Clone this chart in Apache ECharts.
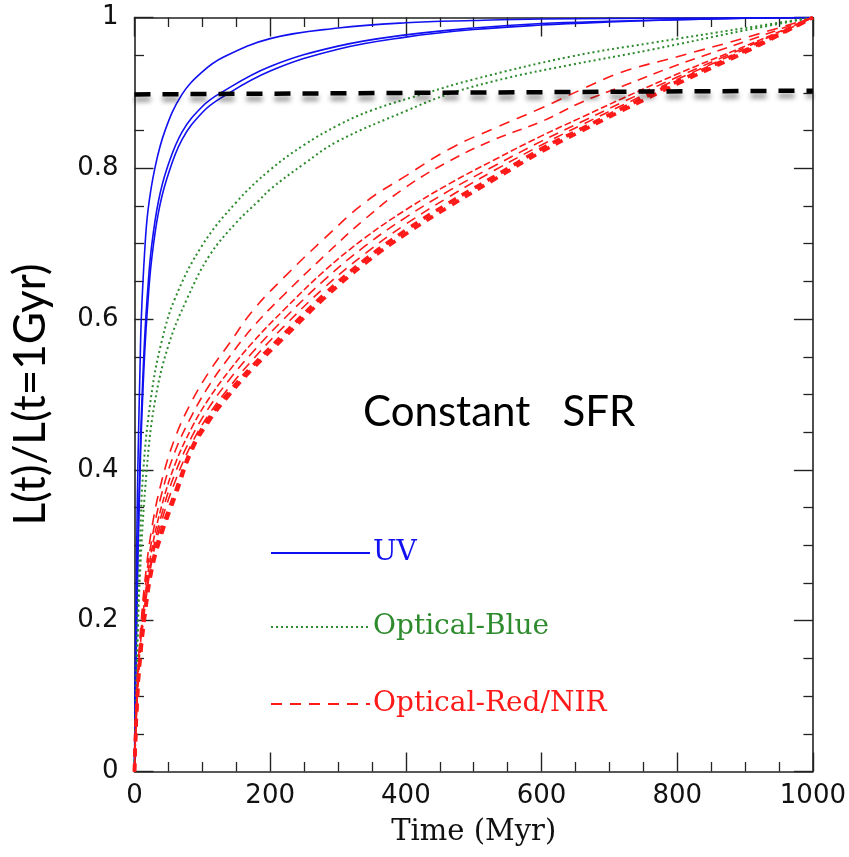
<!DOCTYPE html>
<html>
<head>
<meta charset="utf-8">
<script src="https://cdn.jsdelivr.net/npm/echarts@6/dist/echarts.min.js"></script>
<style>
  html, body { margin: 0; padding: 0; background: #fff; }
  #chart { width: 849px; height: 857px; }
</style>
</head>
<body>
<div id="chart"></div>
<script>
// Luminosity growth L(t)/L(1 Gyr) for a constant star-formation rate

// UV bands (solid blue)
const uvX1 = [0, 1, 2, 4, 6, 8, 10, 15, 20, 30, 45, 70, 100, 130, 200, 300, 400, 500, 600, 800, 1000];
const uvY1 = [0, 0.12, 0.2, 0.35, 0.45, 0.53, 0.6, 0.69, 0.745, 0.80, 0.85, 0.898, 0.928, 0.947, 0.972, 0.986, 0.993, 0.996, 0.998, 0.999, 1];
const uvX2 = [0, 1, 2, 4, 6, 8, 10, 15, 20, 25, 35, 48, 70, 100, 127, 200, 300, 400, 500, 600, 700, 800, 900, 1000];
const uvY2 = [0, 0.08, 0.14, 0.25, 0.34, 0.41, 0.47, 0.575, 0.645, 0.695, 0.755, 0.80, 0.848, 0.882, 0.90, 0.935, 0.962, 0.977, 0.986, 0.992, 0.995, 0.997, 0.999, 1];
const uvY3 = [0, 0.075, 0.13, 0.235, 0.32, 0.39, 0.45, 0.555, 0.625, 0.677, 0.74, 0.787, 0.838, 0.874, 0.893, 0.929, 0.958, 0.974, 0.984, 0.990, 0.994, 0.997, 0.999, 1];

// Optical blue bands (dotted green)
const blueX1 = [0, 2, 4, 8, 13, 25, 40, 60, 100, 150, 200, 250, 300, 350, 431, 500, 642, 760, 900, 1000];
const blueY1 = [0, 0.1, 0.18, 0.3, 0.40, 0.50, 0.57, 0.628, 0.698, 0.755, 0.798, 0.831, 0.857, 0.877, 0.90, 0.918, 0.948, 0.966, 0.986, 1];
const blueX2 = [0, 2, 4, 8, 18, 30, 50, 78, 111, 150, 182, 200, 250, 300, 400, 465, 550, 642, 760, 900, 1000];
const blueY2 = [0, 0.08, 0.15, 0.26, 0.40, 0.49, 0.565, 0.628, 0.685, 0.728, 0.756, 0.772, 0.806, 0.836, 0.876, 0.899, 0.92, 0.937, 0.957, 0.983, 1];

// Optical red / near-IR bands (dashed red)
const redX = [0, 1, 3, 6, 10, 15, 25, 40, 60, 85, 110, 140, 175, 220, 280, 340, 400, 465, 530, 600, 660, 720, 800, 900, 1000];
const redY1 = [0, 0.035, 0.09, 0.15, 0.2, 0.25, 0.32, 0.385, 0.443, 0.492, 0.53, 0.568, 0.612, 0.655, 0.707, 0.755, 0.790, 0.826, 0.853, 0.880, 0.905, 0.928, 0.948, 0.973, 1];
const redY2 = [0, 0.033, 0.085, 0.14, 0.19, 0.238, 0.305, 0.368, 0.425, 0.473, 0.512, 0.55, 0.59, 0.632, 0.684, 0.733, 0.775, 0.810, 0.838, 0.862, 0.888, 0.909, 0.937, 0.968, 1];
const redY3 = [0, 0.032, 0.082, 0.135, 0.182, 0.228, 0.292, 0.352, 0.408, 0.457, 0.495, 0.532, 0.57, 0.612, 0.664, 0.708, 0.745, 0.780, 0.811, 0.843, 0.868, 0.893, 0.925, 0.962, 1];
const redY4 = [0, 0.031, 0.08, 0.132, 0.177, 0.221, 0.283, 0.341, 0.396, 0.445, 0.483, 0.52, 0.557, 0.6, 0.652, 0.697, 0.735, 0.771, 0.803, 0.836, 0.862, 0.888, 0.921, 0.960, 1];
const redY5 = [0, 0.031, 0.078, 0.129, 0.172, 0.215, 0.276, 0.332, 0.385, 0.436, 0.474, 0.51, 0.547, 0.59, 0.642, 0.687, 0.726, 0.763, 0.797, 0.831, 0.858, 0.884, 0.918, 0.958, 1];
const redY6 = [0, 0.03, 0.076, 0.127, 0.168, 0.209, 0.27, 0.32, 0.37, 0.43, 0.469, 0.504, 0.539, 0.58, 0.633, 0.679, 0.718, 0.755, 0.789, 0.826, 0.853, 0.880, 0.915, 0.956, 1];
const redY7 = [0, 0.03, 0.075, 0.125, 0.165, 0.205, 0.265, 0.315, 0.365, 0.427, 0.465, 0.5, 0.535, 0.575, 0.628, 0.674, 0.713, 0.750, 0.785, 0.822, 0.850, 0.877, 0.912, 0.954, 1];

// 90% reference level
const refX = [0, 1000];
const refY = [0.898, 0.903];

const xTicks = { min: 0, max: 1000, interval: 200 };
const yTicks = { min: 0, max: 1, interval: 0.2 };

const BLUE = '#1010f0';
const GREEN = '#2e8b2e';
const RED = '#ff1a1a';

const pairs = (xs, ys) => xs.map((v, i) => [v, ys[i]]);

function curve(name, xs, ys, color, width, dash) {
  return {
    name: name,
    type: 'line',
    data: pairs(xs, ys),
    showSymbol: false,
    symbol: 'none',
    smooth: 0.4,
    clip: true,
    lineStyle: { color: color, width: width, type: dash },
    itemStyle: { color: color },
    silent: true,
    z: 3
  };
}

const tickColor = '#222';
function xAxisDef(pos) {
  return {
    type: 'value', position: pos,
    min: xTicks.min, max: xTicks.max, interval: xTicks.interval,
    axisLine: { show: true, onZero: false, lineStyle: { color: tickColor, width: 1.6 } },
    axisTick: { show: true, inside: true, length: 19, lineStyle: { color: tickColor, width: 1.4 } },
    minorTick: { show: true, splitNumber: 4, length: 9.5, lineStyle: { color: tickColor, width: 1.3 } },
    splitLine: { show: false },
    axisLabel: pos === 'bottom'
      ? { show: true, fontFamily: 'DejaVu Sans', fontSize: 26, color: '#111', margin: 12,
          formatter: v => String(v) }
      : { show: false },
    name: pos === 'bottom' ? 'Time (Myr)' : '',
    nameLocation: 'middle',
    nameGap: 46,
    nameTextStyle: { fontFamily: 'DejaVu Serif', fontSize: 29, color: '#111' }
  };
}
function yAxisDef(pos) {
  return {
    type: 'value', position: pos,
    min: yTicks.min, max: yTicks.max, interval: yTicks.interval,
    axisLine: { show: true, onZero: false, lineStyle: { color: tickColor, width: 1.6 } },
    axisTick: { show: true, inside: true, length: 19, lineStyle: { color: tickColor, width: 1.4 } },
    minorTick: { show: true, splitNumber: 4, length: 9.5, lineStyle: { color: tickColor, width: 1.3 } },
    splitLine: { show: false },
    axisLabel: pos === 'left'
      ? { show: true, fontFamily: 'DejaVu Sans', fontSize: 26, color: '#111', margin: 16 }
      : { show: false },
    name: pos === 'left' ? 'L(t)/L(t=1Gyr)' : '',
    nameLocation: 'middle',
    nameRotate: 90,
    nameGap: 82,
    nameTextStyle: { fontFamily: 'Lato', fontSize: 44, color: '#000' }
  };
}

const series = [
  curve('UV', uvX1, uvY1, BLUE, 1.6, 'solid'),
  curve('UV', uvX2, uvY2, BLUE, 1.6, 'solid'),
  curve('UV', uvX2, uvY3, BLUE, 1.6, 'solid'),
  curve('Optical-Blue', blueX1, blueY1, GREEN, 2, [2, 3]),
  curve('Optical-Blue', blueX2, blueY2, GREEN, 2, [2, 3]),
  curve('Optical-Red/NIR', redX, redY1, RED, 1.6, [11, 8]),
  curve('Optical-Red/NIR', redX, redY2, RED, 1.6, [10, 7]),
  curve('Optical-Red/NIR', redX, redY3, RED, 1.6, [7, 3]),
  curve('Optical-Red/NIR', redX, redY4, RED, 1.6, [10, 7]),
  curve('Optical-Red/NIR', redX, redY5, RED, 1.6, [10, 7]),
  curve('Optical-Red/NIR', redX, redY6, RED, 3.6, [8, 7]),
  curve('Optical-Red/NIR', redX, redY7, RED, 3.6, [8, 7]),
  {
    name: 'ref',
    type: 'line',
    data: pairs(refX, refY),
    showSymbol: false,
    symbol: 'none',
    silent: true,
    z: 4,
    lineStyle: {
      color: '#000', width: 4.5, type: [16, 12],
      shadowColor: 'rgba(0,0,0,0.45)', shadowBlur: 5, shadowOffsetY: 5
    }
  }
];

function legendDef(name, color, top) {
  return {
    data: [{ name: name, textStyle: { color: color } }],
    left: 270, top: top, padding: 0,
    itemWidth: 99, itemHeight: 14,
    selectedMode: false,
    itemStyle: { opacity: 0 },
    textStyle: { fontFamily: 'DejaVu Serif', fontSize: 28, color: color, padding: [0, 0, 0, -2] }
  };
}

const chart = echarts.init(document.getElementById('chart'), null, { renderer: 'canvas' });
chart.setOption({
  animation: false,
  backgroundColor: '#fff',
  grid: { left: 134.5, right: 36, top: 17.5, bottom: 85.5, containLabel: false },
  xAxis: [xAxisDef('bottom'), xAxisDef('top')],
  yAxis: [yAxisDef('left'), yAxisDef('right')],
  legend: [
    legendDef('UV', BLUE, 539),
    legendDef('Optical-Blue', GREEN, 613),
    legendDef('Optical-Red/NIR', RED, 690)
  ],
  graphic: [{
    type: 'text',
    x: 363, y: 412,
    style: {
      text: 'Constant   SFR',
      fontFamily: 'Lato', fontSize: 42, fill: '#000',
      textAlign: 'left', textVerticalAlign: 'middle'
    },
    silent: true
  }],
  series: series
});
</script>
</body>
</html>
